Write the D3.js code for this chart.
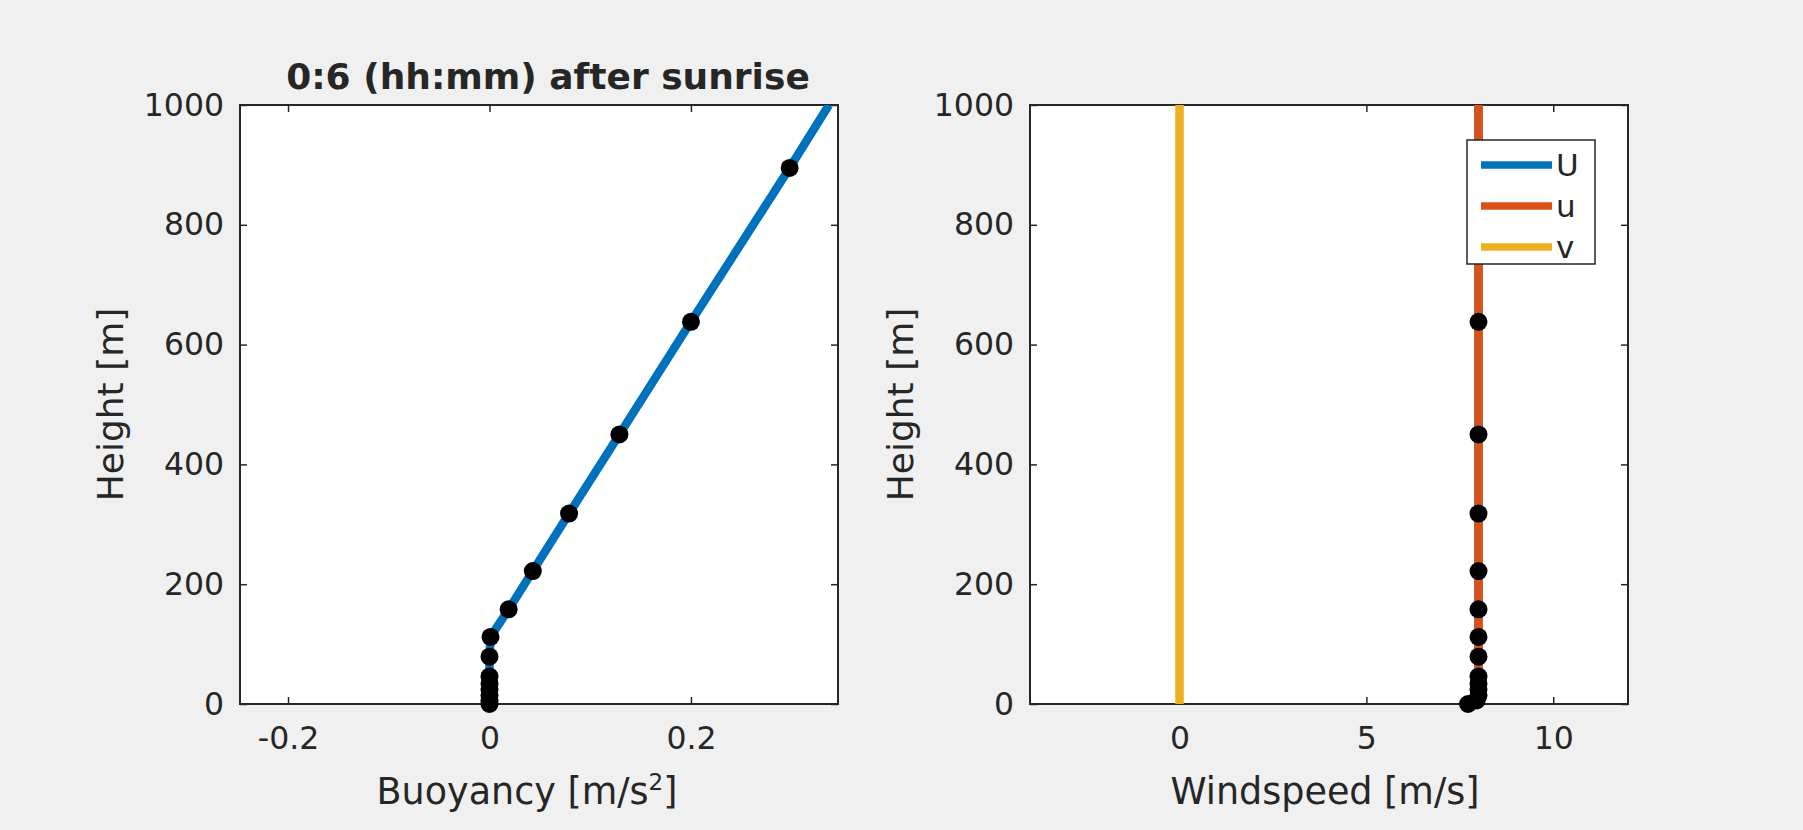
<!DOCTYPE html>
<html>
<head>
<meta charset="utf-8">
<script src="https://cdn.jsdelivr.net/npm/d3@7"></script>
<style>
  html, body { margin: 0; padding: 0; background: #f0f0f0; }
  text { font-family: "DejaVu Sans", sans-serif; fill: #262626; }
</style>
</head>
<body>
<div id="box"></div>
<script>
// sample heights (m) where the profile has a marker
var markerHeights = [0, 6, 14, 24, 34, 46, 79, 112, 158, 222, 318, 450, 638, 895];
var markerBuoyancy = [0, 0, 0, 0, 0, 0, 0, 0.001, 0.019, 0.043, 0.079, 0.129, 0.200, 0.298];
var markerWind = [7.72, 7.95, 8, 8, 8, 8, 8, 8, 8, 8, 8, 8, 8, 8];

// full profiles (lines), extend to top of domain
var lineHeights = [0, 6, 14, 24, 34, 46, 79, 112, 158, 222, 318, 450, 638, 895, 1000];
var lineBuoyancy = [0, 0, 0, 0, 0, 0, 0, 0.001, 0.019, 0.043, 0.079, 0.129, 0.200, 0.298, 0.337];
var lineU = [7.72, 7.95, 8, 8, 8, 8, 8, 8, 8, 8, 8, 8, 8, 8, 8];
var lineSmallU = [7.72, 7.95, 8, 8, 8, 8, 8, 8, 8, 8, 8, 8, 8, 8, 8];
var lineV = [0, 0, 0, 0, 0, 0, 0, 0, 0, 0, 0, 0, 0, 0, 0];

var heightTicks = [0, 200, 400, 600, 800, 1000];
var buoyancyTicks = [-0.2, 0, 0.2];
var windTicks = [0, 5, 10];

var seriesNames = ["U", "u", "v"];
var colors = ["#0072bd", "#d95319", "#edb120"];

var width = 1803, height = 830;
var yTop = 105, yBottom = 704;

var svg = d3.select("#box").append("svg")
    .attr("width", width)
    .attr("height", height)
    .style("display", "block");

svg.append("rect").attr("width", width).attr("height", height).attr("fill", "#f0f0f0");

var y = d3.scaleLinear().domain([0, 1000]).range([yBottom, yTop]);

//Draws one axes box with ticks on all four sides
function drawPanel(x0, x1, xDomain, xTicks, xFmt, xLabel, labelShift) {
    var x = d3.scaleLinear().domain(xDomain).range([x0, x1]);
    var g = svg.append("g");
    g.append("rect")
        .attr("x", x0).attr("y", yTop)
        .attr("width", x1 - x0).attr("height", yBottom - yTop)
        .attr("fill", "white");

    var clip = "clip" + x0;
    svg.append("clipPath").attr("id", clip)
        .append("rect").attr("x", x0).attr("y", yTop)
        .attr("width", x1 - x0).attr("height", yBottom - yTop);

    var axisStyle = function(sel) {
        sel.select(".domain").remove();
        sel.selectAll(".tick line").attr("stroke", "#262626").attr("stroke-width", 1.5);
        sel.selectAll("text").style("font-size", "31.5px").attr("fill", "#262626");
    };

    g.append("g").attr("transform", "translate(0," + yBottom + ")")
        .call(d3.axisBottom(x).tickValues(xTicks).tickFormat(xFmt).tickSizeInner(-7).tickPadding(23))
        .call(axisStyle);
    g.append("g").attr("transform", "translate(0," + yTop + ")")
        .call(d3.axisTop(x).tickValues(xTicks).tickFormat("").tickSizeInner(-7))
        .call(axisStyle);
    g.append("g").attr("transform", "translate(" + x0 + ",0)")
        .call(d3.axisLeft(y).tickValues(heightTicks).tickFormat(d3.format("d")).tickSizeInner(-7).tickPadding(16))
        .call(axisStyle);
    g.append("g").attr("transform", "translate(" + x1 + ",0)")
        .call(d3.axisRight(y).tickValues(heightTicks).tickFormat("").tickSizeInner(-7))
        .call(axisStyle);

    g.append("text")
        .attr("x", (x0 + x1) / 2 + labelShift).attr("y", 804)
        .attr("text-anchor", "middle")
        .style("font-size", "36.5px")
        .html(xLabel);
    g.append("text")
        .attr("transform", "translate(" + (x0 - 117) + "," + ((yTop + yBottom) / 2) + ") rotate(-90)")
        .attr("text-anchor", "middle")
        .style("font-size", "36px")
        .text("Height [m]");

    var plot = svg.append("g").attr("clip-path", "url(#" + clip + ")");
    return { x: x, g: g, plot: plot, x0: x0, x1: x1 };
}

function frame(p) {
    p.g.append("rect")
        .attr("x", p.x0).attr("y", yTop)
        .attr("width", p.x1 - p.x0).attr("height", yBottom - yTop)
        .attr("fill", "none").attr("stroke", "#262626").attr("stroke-width", 2);
}

function profile(p, xs, color) {
    var line = d3.line().x(function(d, i) { return p.x(xs[i]); })
                        .y(function(d) { return y(d); });
    p.plot.append("path").datum(lineHeights)
        .attr("d", line)
        .attr("fill", "none")
        .attr("stroke", color)
        .attr("stroke-width", 8.5)
        .attr("stroke-linejoin", "round");
}

function markers(p, xs) {
    svg.append("g").selectAll("circle").data(markerHeights).enter().append("circle")
        .attr("cx", function(d, i) { return p.x(xs[i]); })
        .attr("cy", function(d) { return y(d); })
        .attr("r", 9)
        .attr("fill", "black");
}

//Left panel: buoyancy
var left = drawPanel(240, 838, [-0.2477, 0.346], buoyancyTicks,
    function(d) { return d === 0 ? "0" : (d < 0 ? "-" : "") + Math.abs(d).toFixed(1); },
    'Buoyancy [m/s<tspan dy="-14" font-size="23px">2</tspan><tspan dy="14">]</tspan>', -12);
profile(left, lineBuoyancy, colors[0]);
frame(left);
markers(left, markerBuoyancy);

svg.append("text")
    .attr("x", 548).attr("y", 89)
    .attr("text-anchor", "middle")
    .style("font-size", "36px")
    .style("font-weight", "bold")
    .attr("fill", "black")
    .text("0:6 (hh:mm) after sunrise");

//Right panel: windspeed
var right = drawPanel(1030, 1628, [-4, 12], windTicks, d3.format("d"), "Windspeed [m/s]", -4);
profile(right, lineU, colors[0]);
profile(right, lineSmallU, colors[1]);
profile(right, lineV, colors[2]);
frame(right);
markers(right, markerWind);

//Legend
var lg = svg.append("g").attr("transform", "translate(1467,140)");
lg.append("rect").attr("width", 128).attr("height", 124)
    .attr("fill", "white").attr("stroke", "#262626").attr("stroke-width", 1.5);
seriesNames.forEach(function(name, i) {
    var yy = 25 + i * 41;
    lg.append("line").attr("x1", 14).attr("x2", 85).attr("y1", yy).attr("y2", yy)
        .attr("stroke", colors[i]).attr("stroke-width", 7.5);
    lg.append("text").attr("x", 89).attr("y", yy + 11)
        .style("font-size", "31px").text(name);
});
</script>
</body>
</html>
